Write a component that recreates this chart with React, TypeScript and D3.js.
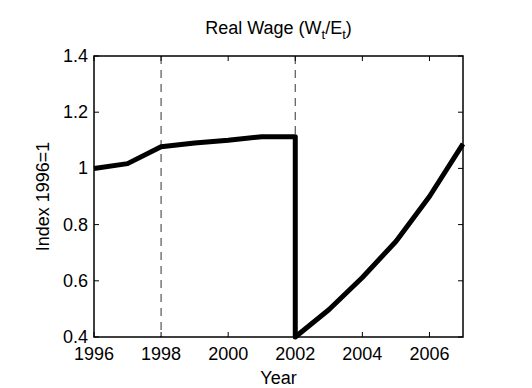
import React, { useEffect, useRef } from 'react';
import * as d3 from 'd3';

const years = [1996, 1997, 1998, 1999, 2000, 2001, 2002, 2002, 2003, 2004, 2005, 2006, 2007];
const wage = [1.0, 1.017, 1.077, 1.09, 1.1, 1.113, 1.113, 0.4, 0.497, 0.612, 0.74, 0.9, 1.087];
const xTicks = [1996, 1998, 2000, 2002, 2004, 2006];
const yTicks = [0.4, 0.6, 0.8, 1.0, 1.2, 1.4];
const breakYears = [1998, 2002];

export default function App() {
  const svgRef = useRef<SVGSVGElement | null>(null);

  useEffect(() => {
    if (!svgRef.current) return;
    const width = 532;
    const height = 388;
    const m = { left: 94, right: 532 - 463, top: 56, bottom: 388 - 337 };
    const font = 'Liberation Sans, Arial, sans-serif';
    const fs = '18px';

    const svg = d3.select(svgRef.current);
    svg.selectAll('*').remove();
    svg.attr('width', width).attr('height', height);

    const x = d3.scaleLinear().domain([1996, 2007]).range([m.left, width - m.right]);
    const y = d3.scaleLinear().domain([0.4, 1.4]).range([height - m.bottom, m.top]);

    // dashed break lines
    svg.selectAll('line.brk')
      .data(breakYears)
      .enter()
      .append('line')
      .attr('x1', d => x(d)).attr('x2', d => x(d))
      .attr('y1', y(1.4)).attr('y2', y(0.4))
      .attr('stroke', '#555')
      .attr('stroke-width', 1.2)
      .attr('stroke-dasharray', '8,6');

    const line = d3.line<number>()
      .x((d, i) => x(years[i]))
      .y(d => y(d));

    svg.append('path')
      .datum(wage)
      .attr('d', line)
      .attr('fill', 'none')
      .attr('stroke', '#000')
      .attr('stroke-width', 5)
      .attr('stroke-linejoin', 'round');

    // frame
    svg.append('rect')
      .attr('x', x(1996)).attr('y', y(1.4))
      .attr('width', x(2007) - x(1996)).attr('height', y(0.4) - y(1.4))
      .attr('fill', 'none').attr('stroke', '#000').attr('stroke-width', 1.5);

    const tick = 5;
    xTicks.forEach(t => {
      svg.append('line').attr('x1', x(t)).attr('x2', x(t)).attr('y1', y(0.4)).attr('y2', y(0.4) - tick).attr('stroke', '#000');
      svg.append('line').attr('x1', x(t)).attr('x2', x(t)).attr('y1', y(1.4)).attr('y2', y(1.4) + tick).attr('stroke', '#000');
      svg.append('text')
        .attr('x', x(t)).attr('y', y(0.4) + 23)
        .attr('text-anchor', 'middle')
        .style('font-family', font).style('font-size', fs)
        .text(String(t));
    });
    yTicks.forEach(t => {
      svg.append('line').attr('x1', x(1996)).attr('x2', x(1996) + tick).attr('y1', y(t)).attr('y2', y(t)).attr('stroke', '#000');
      svg.append('line').attr('x1', x(2007)).attr('x2', x(2007) - tick).attr('y1', y(t)).attr('y2', y(t)).attr('stroke', '#000');
      svg.append('text')
        .attr('x', x(1996) - 6).attr('y', y(t) + 6)
        .attr('text-anchor', 'end')
        .style('font-family', font).style('font-size', fs)
        .text(d3.format('~g')(t));
    });

    // title
    const title = svg.append('text')
      .attr('x', (x(1996) + x(2007)) / 2).attr('y', 34)
      .attr('text-anchor', 'middle')
      .style('font-family', font).style('font-size', fs);
    title.append('tspan').text('Real Wage (W');
    title.append('tspan').attr('dy', 5).style('font-size', '13px').text('t');
    title.append('tspan').attr('dy', -5).text('/E');
    title.append('tspan').attr('dy', 5).style('font-size', '13px').text('t');
    title.append('tspan').attr('dy', -5).text(')');

    svg.append('text')
      .attr('x', (x(1996) + x(2007)) / 2).attr('y', 384)
      .attr('text-anchor', 'middle')
      .style('font-family', font).style('font-size', fs)
      .text('Year');

    svg.append('text')
      .attr('transform', `translate(49,${(y(0.4) + y(1.4)) / 2}) rotate(-90)`)
      .attr('text-anchor', 'middle')
      .style('font-family', font).style('font-size', fs)
      .text('Index 1996=1');
  }, []);

  return (
    <div style={{ position: 'absolute', left: 0, top: 0, background: '#fff' }}>
      <svg ref={svgRef}></svg>
    </div>
  );
}
